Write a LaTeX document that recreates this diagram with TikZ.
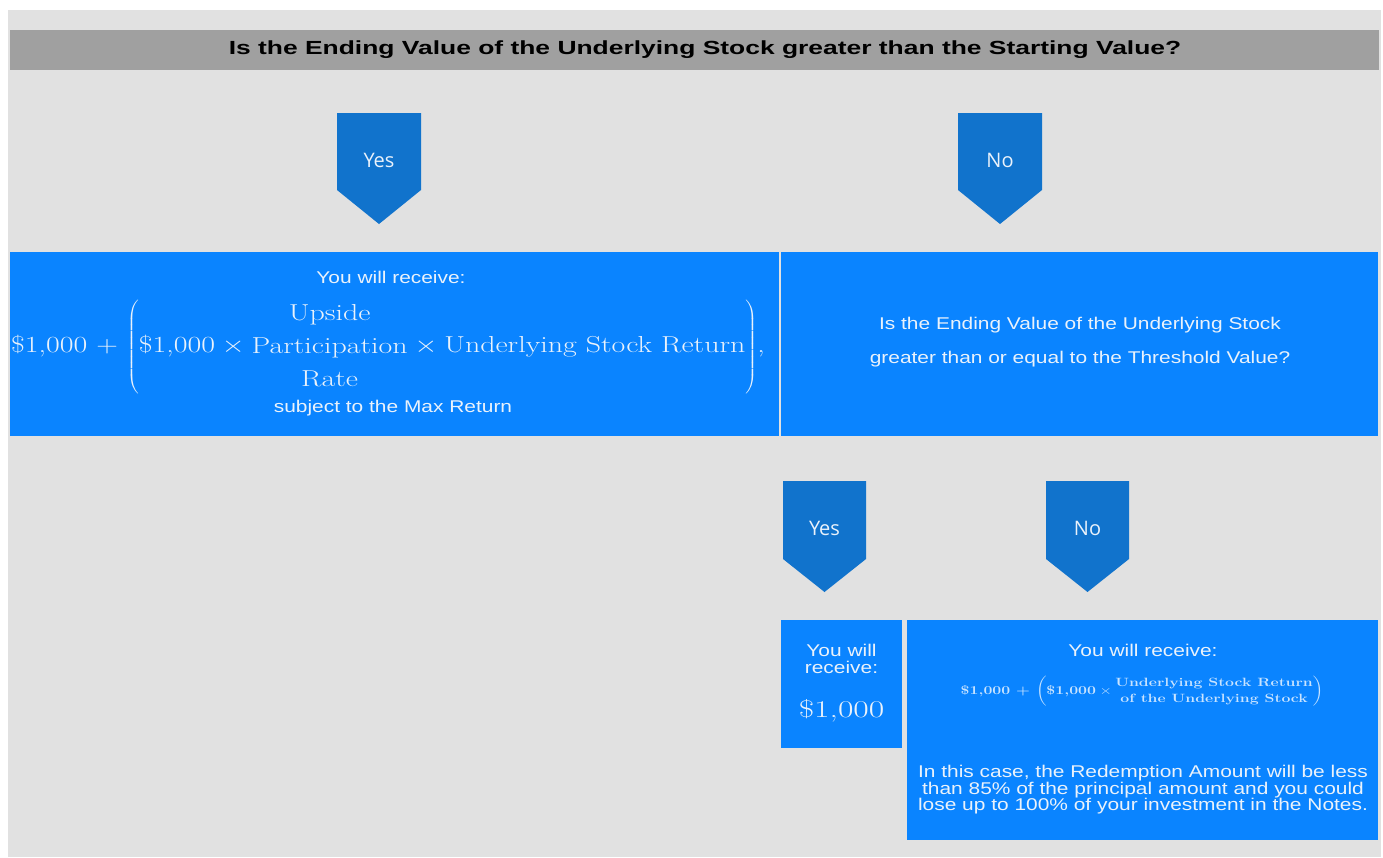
\documentclass[tikz,border=0pt]{standalone}
\usepackage{fix-cm}
\usepackage{graphicx}
\usepackage{fontspec}
\newfontfamily\widefont{Liberation Sans}[FakeStretch=1.23]
\newfontfamily\titlefont{Liberation Sans}[FakeStretch=1.39]
\newfontfamily\uifont{Open Sans}
\definecolor{pagegray}{HTML}{E1E1E1}
\definecolor{bargray}{HTML}{A0A0A0}
\definecolor{boxblue}{HTML}{0A84FF}
\definecolor{arrowblue}{HTML}{1173CC}
\definecolor{paletext}{HTML}{EAF2FB}
\tikzset{
  answer/.style={text=paletext, font=\uifont\fontsize{20}{24}\selectfont},
  boxtext/.style={text=paletext, font=\widefont\fontsize{17}{16.5}\selectfont, align=center},
}
\begin{document}
\begin{tikzpicture}[x=1pt,y=-1pt]
  \useasboundingbox (0,0) rectangle (1383,857);

  % Background
  \fill[white] (0,0) rectangle (1383,857);
  \fill[pagegray] (8,10) rectangle (1381,857);

  % Question bar
  \fill[bargray] (10,30) rectangle (1379,70);
  \node[font=\titlefont\bfseries\fontsize{19}{20}\selectfont] (question) at (705,50)
    {Is the Ending Value of the Underlying Stock greater than the Starting Value?};

  % First answers
  \fill[arrowblue] (337,113) -- (421,113) -- (421,190) -- (379,224) -- (337,190) -- cycle;
  \fill[arrowblue] (958,113) -- (1042,113) -- (1042,190) -- (1000,224) -- (958,190) -- cycle;
  \node[answer] (yesA) at (379,160) {Yes};
  \node[answer] (noA) at (1000,160) {No};

  % Second row boxes
  \fill[boxblue] (10,252) rectangle (779,436);
  \fill[boxblue] (781,252) rectangle (1378,436);
  \node[boxtext] (gainhead) at (391,277) {You will receive:};
  \node[text=paletext, font=\fontsize{22}{31}\selectfont] (gain) at (388,347)
    {\scalebox{1.36}[1.05]{\$1,000 + $\left(\mbox{\$1,000} \times
      \begin{tabular}{@{}c@{}}Upside\\Participation\\Rate\end{tabular}
      \times \mbox{Underlying Stock Return}\right)$,}};
  \node[boxtext] (gaintail) at (393,408) {subject to the Max Return};
  \node[boxtext, align=center] (threshold) at (1080,342)
    {Is the Ending Value of the Underlying Stock\\[18pt]
     greater than or equal to the Threshold Value?};

  % Second answers
  \fill[arrowblue] (783,481) -- (866,481) -- (866,559) -- (824.5,592) -- (783,559) -- cycle;
  \fill[arrowblue] (1046,481) -- (1129,481) -- (1129,559) -- (1087.5,592) -- (1046,559) -- cycle;
  \node[answer] (yesB) at (824.5,528) {Yes};
  \node[answer] (noB) at (1087.5,528) {No};

  % Third row boxes
  \fill[boxblue] (781,620) rectangle (902,748);
  \fill[boxblue] (907,620) rectangle (1378,840);
  \node[boxtext] (parhead) at (841.5,659) {You will\\receive:};
  \node[text=paletext, font=\fontsize{24}{26}\selectfont] (par) at (841.5,711)
    {\scalebox{1.4}[1]{\$1,000}};
  \node[boxtext] (losshead) at (1143,650) {You will receive:};
  \node[text=white!78!boxblue, font=\bfseries\fontsize{12}{16}\selectfont] (loss) at (1142,691)
    {\scalebox{1.32}[1]{\$1,000 + $\left(\mbox{\$1,000} \times
      \begin{tabular}{@{}c@{}}Underlying Stock Return\\of the Underlying Stock\end{tabular}\right)$}};
  \node[boxtext] (losstail) at (1143,790)
    {In this case, the Redemption Amount will be less\\
     than 85\% of the principal amount and you could\\
     lose up to 100\% of your investment in the Notes.};
\end{tikzpicture}
\end{document}
